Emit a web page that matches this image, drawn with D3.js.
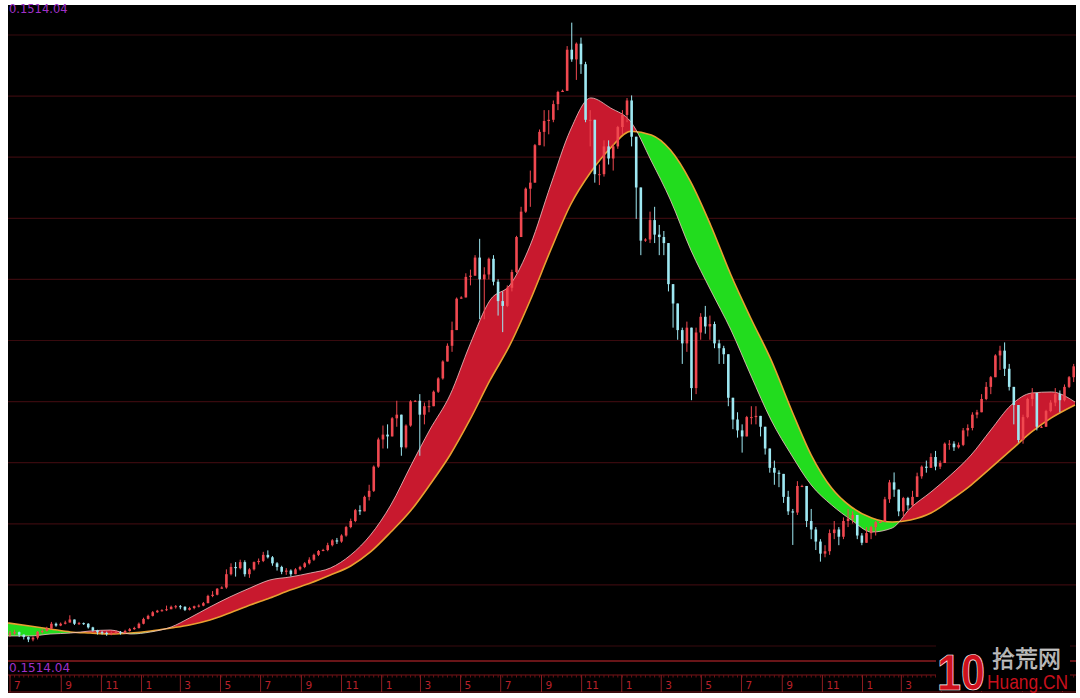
<!DOCTYPE html>
<html><head><meta charset="utf-8">
<script src="https://cdn.jsdelivr.net/npm/d3@7"></script>
<style>html,body{margin:0;padding:0;background:#fff;} svg{display:block;}</style>
</head><body><svg id="c" width="1080" height="698"></svg>
<script>
// ---------- DATA ----------
const barStart = "2005-06-17";          // first weekly bar (Friday), one bar per week
const firstOpen = 1060;
const barClose = [
 1070,1080,1060,1040,1020,1035,1083,1090,1110,1150,1135,1150,1160,1185,1150,1155,1150,1120,1095,1080,1075,1065,1070,1080,1075,1090,1105,1115,1150,
 1190,1215,1245,1258,1262,1270,1290,1295,1290,1265,1280,1295,1300,1320,1380,1390,1440,1450,1560,1620,1610,1660,1560,1600,1660,1670,1720,1700,1650,1620,1580,1590,1560,1600,1620,1650,1680,1720,1752,1760,1800,1840,1830,1880,1950,2000,2090,2080,2200,2250,2450,2675,
 2715,2700,2850,2880,2610,2790,2990,2995,2880,2950,2950,3070,3180,3320,3450,3580,3840,3850,4020,4030,4180,4000,4040,4170,3980,3820,3780,3930,4060,4350,4560,4750,4800,5110,5220,5310,5320,5450,5550,5560,5900,5820,5950,5780,5320,5320,4870,4870,5100,5000,5100,5260,
 5360,5480,5180,4760,4320,4330,4490,4370,4350,4300,3960,3800,3580,3470,3600,3100,3560,3690,3610,3630,3470,3430,3380,3020,2840,2750,2700,2860,2860,2870,2780,2600,2440,2400,2390,2200,2080,2070,2290,2290,2000,1930,1830,1730,1750,1900,1930,1870,2000,2020,2050,1880,
 1820,1900,1950,1990,1992,2180,2320,2260,2080,2190,2130,2200,2370,2450,2440,2530,2450,2480,2640,2640,2610,2630,2750,2770,2880,2900,3010,3110,3190,3370,3410,3260,3110,2960,2670,2860,3010,3060,2780,2780,2910,2980,3050,3000,3110,3190,3280
];
const barHigh = [
 1090,1100,1085,1062,1045,1045,1090,1105,1125,1165,1160,1160,1175,1220,1185,1165,1160,1155,1125,1100,1090,1085,1085,1095,1090,1100,1115,1125,1160,
 1200,1225,1255,1265,1270,1300,1300,1305,1305,1295,1290,1300,1310,1330,1390,1420,1445,1460,1600,1650,1660,1680,1675,1610,1665,1690,1745,1757,1710,1660,1630,1610,1600,1610,1630,1660,1700,1730,1760,1770,1820,1850,1860,1890,1960,2020,2100,2130,2210,2300,2460,2690,
 2790,2800,2860,2995,2880,2800,3000,3000,3050,2980,3000,3080,3190,3330,3470,3650,3850,3860,4050,4080,4200,4335,4100,4180,4200,4000,3900,3950,4080,4360,4600,4760,4900,5120,5240,5400,5400,5480,5560,5570,5930,6124,5960,6000,5800,5400,5300,4950,5150,5150,5120,5270,
 5400,5500,5522,5100,4600,4340,4560,4600,4450,4400,4300,3950,3800,3600,3650,3600,3600,3720,3780,3700,3650,3500,3450,3200,3000,2900,2800,2870,2950,2950,2850,2750,2600,2500,2420,2380,2250,2100,2330,2300,2200,2100,1950,1850,1800,1930,2000,1950,2030,2100,2080,2000,
 1900,1950,1960,2000,2000,2200,2340,2402,2250,2200,2200,2250,2400,2460,2500,2560,2580,2500,2650,2670,2660,2650,2770,2800,2900,2920,3050,3150,3200,3380,3450,3478,3300,3100,2900,2880,3020,3100,3000,2790,2920,3000,3100,3080,3130,3200,3300
];
const barLow = [
 1040,1060,1040,1020,998,1005,1020,1070,1085,1105,1125,1130,1145,1160,1140,1140,1140,1110,1085,1060,1060,1050,1055,1065,1060,1070,1085,1100,1110,
 1145,1185,1210,1240,1250,1255,1270,1275,1270,1255,1260,1270,1285,1295,1320,1370,1385,1440,1440,1550,1540,1600,1540,1530,1590,1640,1660,1690,1630,1590,1560,1555,1541,1560,1590,1610,1640,1670,1710,1750,1750,1790,1810,1820,1870,1940,1990,2050,2080,2170,2240,2440,
 2600,2600,2700,2780,2540,2600,2780,2985,2540,2800,2900,2950,3060,3170,3320,3400,3580,3840,3850,3950,4030,3670,3670,4000,3950,3700,3563,3770,3900,4050,4350,4550,4600,4800,5110,5100,5200,5300,5400,5550,5690,5800,5650,5700,5300,5100,4800,4780,4850,4950,4900,5080,
 5200,5300,5100,4500,4200,4310,4300,4300,4200,4200,3900,3600,3500,3300,3400,3000,3050,3500,3550,3500,3430,3300,3300,2950,2760,2690,2566,2700,2800,2800,2700,2550,2400,2300,2280,2150,2050,1802,2050,2280,1950,1850,1760,1664,1700,1720,1850,1800,1850,1950,1980,1850,
 1800,1820,1850,1880,1985,1990,2150,2200,2040,2040,2090,2120,2200,2350,2400,2440,2420,2430,2480,2590,2580,2600,2620,2700,2750,2850,2900,3000,3050,3200,3250,3200,3080,2800,2650,2640,2850,2950,2750,2770,2790,2900,2950,2900,2990,3100,3150
];
// moving averages read monthly (mid-month), Jun 2005 .. Nov 2009
const maStart = "2005-06-15";
const maFast = [1049,1049,1065,1073,1090,1098,1065,
 1082,1123,1198,1289,1371,1446,1512,1537,1570,1611,1719,1884,
 2133,2464,2753,3043,3457,3829,3953,4284,4781,5236,5501,5418,
 5302,4979,4657,4243,3912,3581,3208,2836,2546,2298,2133,2009,
 1909,1942,2108,2240,2381,2546,2753,2960,3059,3068,2985];
const maSlow = [1156,1131,1107,1082,1073,1065,1073,
 1090,1115,1140,1181,1239,1305,1363,1429,1487,1553,1628,1744,
 1909,2091,2298,2546,2836,3167,3457,3829,4243,4615,4888,5087,
 5225,5195,5070,4805,4450,4036,3680,3333,2919,2546,2273,2116,
 2025,1992,2009,2066,2174,2298,2439,2588,2737,2853,2960];
const tickStart = "2005-07-01";          // tick labels every two months
const tickLabels = ["7","9","11","1","3","5","7","9","11","1","3","5","7","9","11","1","3","5","7","9","11","1","3","5","7","9","11"];
const scaleText = "0.1514.04";

// ---------- LAYOUT ----------
const svg = d3.select("#c");
const L = 8, R = 1076, T = 5, B = 693, plotBottom = 660;
const logoX0 = 936, logoX1 = 1070;
const parse = d3.timeParse("%Y-%m-%d");
const x = d3.scaleTime().domain([new Date(2005,5,12), new Date(2009,10,20)]).range([L, 1075]);
const y = d3.scaleLinear().domain([850, 6270]).range([plotBottom, T]);

svg.append("rect").attr("x",L).attr("y",T).attr("width",R-L).attr("height",B-T).attr("fill","#000");

const defs = svg.append("defs");
defs.append("clipPath").attr("id","plotclip").append("rect").attr("x",L).attr("y",T).attr("width",R-L).attr("height",plotBottom-T);

// grid lines
const gridYs = d3.range(11).map(k => 35 + k*61.1);
svg.append("g").selectAll("line").data(gridYs).join("line")
  .attr("x1",L).attr("x2",R).attr("y1",d=>d).attr("y2",d=>d)
  .attr("stroke","#380a0e").attr("stroke-width",1.2);

// ---------- MA band ----------
const s0 = parse(maStart);
const ma = maFast.map((f,i) => {
  let d = d3.timeMonth.offset(s0, i);
  if (i === 0) d = x.domain()[0];
  if (i === maFast.length-1) d = x.domain()[1];
  return {d, fast:f, slow:maSlow[i]};
});
const curve = d3.curveMonotoneX;
defs.append("clipPath").attr("id","above").append("path")
  .attr("d", d3.area().curve(curve).x(p=>x(p.d)).y0(0).y1(p=>y(p.slow))(ma));
defs.append("clipPath").attr("id","below").append("path")
  .attr("d", d3.area().curve(curve).x(p=>x(p.d)).y0(698).y1(p=>y(p.slow))(ma));
const band = d3.area().curve(curve).x(p=>x(p.d)).y0(p=>y(p.slow)).y1(p=>y(p.fast));
const gBand = svg.append("g").attr("clip-path","url(#plotclip)");
gBand.append("path").attr("d",band(ma)).attr("fill","#c8192e").attr("clip-path","url(#above)");
gBand.append("path").attr("d",band(ma)).attr("fill","#22dc1e").attr("clip-path","url(#below)");
gBand.append("path").attr("d",d3.line().curve(curve).x(p=>x(p.d)).y(p=>y(p.slow))(ma))
  .attr("fill","none").attr("stroke","#e8a030").attr("stroke-width",1.6);
gBand.append("path").attr("d",d3.line().curve(curve).x(p=>x(p.d)).y(p=>y(p.fast))(ma))
  .attr("fill","none").attr("stroke","#f4c4c4").attr("stroke-width",1).attr("stroke-opacity",0.8);

// ---------- candles ----------
const b0 = parse(barStart);
const bars = barClose.map((c,i) => {
  const o = i === 0 ? firstOpen : barClose[i-1];
  return {d: d3.timeDay.offset(b0, 7*i - 2), o, c, h: Math.max(barHigh[i], o, c), l: Math.min(barLow[i], o, c)};
});
const gC = svg.append("g").attr("clip-path","url(#plotclip)");
const up = "#f04850", dn = "#9ee8f2";
gC.selectAll("line").data(bars).join("line")
  .attr("x1",b=>x(b.d)).attr("x2",b=>x(b.d)).attr("y1",b=>y(b.h)).attr("y2",b=>y(b.l))
  .attr("stroke",b=>b.c>=b.o?up:dn).attr("stroke-width",1);
gC.selectAll("rect").data(bars).join("rect")
  .attr("x",b=>x(b.d)-1.3).attr("width",2.6)
  .attr("y",b=>y(Math.max(b.o,b.c))).attr("height",b=>Math.max(1,Math.abs(y(b.o)-y(b.c))))
  .attr("fill",b=>b.c>=b.o?up:dn);

// ---------- bottom axis area ----------
svg.append("line").attr("x1",L).attr("x2",R).attr("y1",661).attr("y2",661).attr("stroke","#8c1c20").attr("stroke-width",1.5);
svg.append("line").attr("x1",L).attr("x2",R).attr("y1",675).attr("y2",675).attr("stroke","#7a1418").attr("stroke-width",1.2);
svg.append("line").attr("x1",L).attr("x2",R).attr("y1",692).attr("y2",692).attr("stroke","#7a1418").attr("stroke-width",1.2);
// minor ticks weekly
svg.append("g").selectAll("line").data(bars).join("line")
  .attr("x1",b=>x(b.d)).attr("x2",b=>x(b.d)).attr("y1",675).attr("y2",677.5)
  .attr("stroke","#6a1014").attr("stroke-width",1);
const t0 = parse(tickStart);
const ticks = tickLabels.map((t,i)=>({d:d3.timeMonth.offset(t0,2*i), t, i}));
const tx = k => k.i === 0 ? L + 2 : x(k.d);
const gT = svg.append("g");
gT.selectAll("line").data(ticks).join("line")
  .attr("x1",tx).attr("x2",tx).attr("y1",675).attr("y2",692)
  .attr("stroke","#8c1c20").attr("stroke-width",1);
// labels hidden by the watermark are not drawn
gT.selectAll("text").data(ticks.filter(k => tx(k) + 14 < logoX0)).join("text")
  .attr("x",k=>tx(k)+4).attr("y",689)
  .attr("font-family","DejaVu Sans, sans-serif").attr("font-size",10.5).attr("fill","#b8202a")
  .text(k=>k.t);

svg.append("text").attr("x",9).attr("y",13).attr("font-family","DejaVu Sans, sans-serif")
  .attr("font-size",11.5).attr("fill","#a030c8").text(scaleText);
svg.append("text").attr("x",9).attr("y",672).attr("font-family","DejaVu Sans, sans-serif")
  .attr("font-size",12).attr("fill","#a030c8").text(scaleText);

// ---------- watermark logo ----------
const lg = svg.append("g");
lg.append("rect").attr("x",logoX0).attr("y",644).attr("width",logoX1-logoX0).attr("height",47).attr("fill","#000");
lg.append("text").attr("x",937).attr("y",690).attr("font-family","Liberation Sans, sans-serif")
  .attr("font-weight","bold").attr("font-size",50).attr("fill","#d0101c")
  .attr("stroke","#fff").attr("stroke-width",0.7)
  .attr("textLength",48).attr("lengthAdjust","spacingAndGlyphs").text("10");
lg.append("text").attr("x",992).attr("y",667).attr("font-family","Noto Sans CJK SC, sans-serif")
  .attr("font-size",23).attr("fill","#a8a8a8").attr("stroke","#fff").attr("stroke-width",0.3).text("拾荒网");
lg.append("text").attr("x",987).attr("y",689).attr("font-family","Liberation Sans, sans-serif")
  .attr("font-size",21).attr("fill","#c8101c")
  .attr("textLength",81).attr("lengthAdjust","spacingAndGlyphs").text("Huang.CN");
</script></body></html>
